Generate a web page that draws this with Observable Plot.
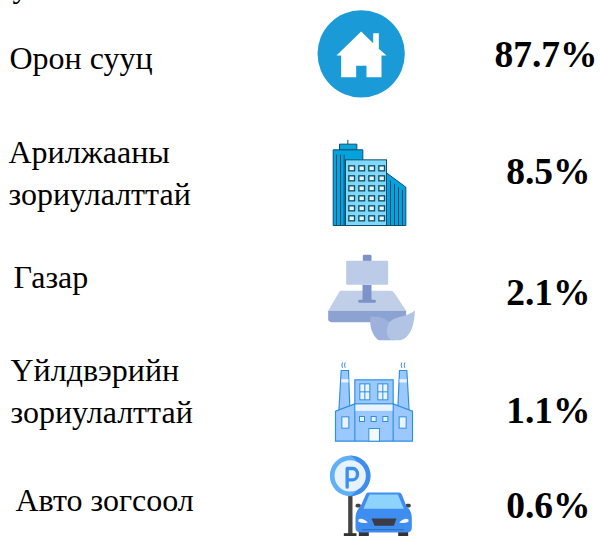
<!DOCTYPE html>
<html><head><meta charset="utf-8">
<script src="https://cdn.jsdelivr.net/npm/d3@7"></script>
<script src="https://cdn.jsdelivr.net/npm/@observablehq/plot@0.6"></script>
<style>html,body{margin:0;padding:0;background:#fff}svg{display:block}</style>
</head><body><div id="chart"></div>
<script>
const categories = ["Орон сууц", "Арилжааны\nзориулалттай", "Газар", "Үйлдвэрийн\nзориулалттай", "Авто зогсоол"];
const shares = [87.7, 8.5, 2.1, 1.1, 0.6];
const clippedText = ["у"];
const labelX = [9, 8, 13, 10, 15];
const labelY = [55, 170, 274, 388, 497];
const valueX = [597, 590, 590, 590, 590];
const valueY = [54, 171, 292, 410, 505];

const win = (x,y,w,h,stroke,fill,sw=3)=>`<rect x='${x}' y='${y}' width='${w}' height='${h}' fill='${fill}' stroke='${stroke}' stroke-width='${sw}'/>`;
const wrap = (w,h,body)=>"data:image/svg+xml;utf8,"+encodeURIComponent(`<svg xmlns='http://www.w3.org/2000/svg' width='${w}' height='${h}' viewBox='0 0 ${w} ${h}'>${body}</svg>`);

const houseIcon = wrap(390,360,`<circle cx='182' cy='160' r='131' fill='#1a9ad6'/><path fill='#fff' d='M108 165L182 93L218 128V98H235V145L258 165H243V230H198V196H167V230H122V165Z'/>`);

const towerRows = d3.range(6).flatMap(r=>d3.range(4).map(c=>win(115+c*30,106+r*30,17,15,"#0b4f6c","#eaf7fd",4))).join("");
const buildingIcon = wrap(360,300,`
<path d='M87 58V41H139V58Z' fill='#07a6dc' stroke='#0b4f70' stroke-width='3'/>
<path d='M112 28V41' stroke='#0b4f70' stroke-width='3'/>
<path d='M68 285V58H157V285Z' fill='#05a3de' stroke='#0b4f70' stroke-width='3'/>
<path d='M78 72V285M90 72V285M101 72V285' stroke='#0b4f70' stroke-width='3'/>
<path d='M228 127L286 170V285H228Z' fill='#05a3de' stroke='#0b4f70' stroke-width='3'/>
<path d='M240 150V285M252 160V285M264 170V285M276 178V285' stroke='#0b4f70' stroke-width='3'/>
<rect x='105' y='88' width='123' height='197' fill='#7fd8f8' stroke='#0b4f70' stroke-width='3'/>
${towerRows}`);

const landIcon = wrap(360,270,`
<path d='M92 121H240Q247 121 252 128L287 181H53L84 128Q87 121 92 121Z' fill='#c0cee8'/>
<path d='M53 181H287V205Q287 215 277 215H63Q53 215 53 205Z' fill='#8ca3d2'/>
<rect x='157' y='13' width='26' height='20' rx='4' fill='#7b93c9'/>
<rect x='156' y='103' width='27' height='50' fill='#7b93c9'/>
<rect x='143' y='148' width='53' height='9' rx='4' fill='#7b93c9'/>
<rect x='107' y='31' width='126' height='72' rx='4' fill='#bccbe7'/>
<path d='M180 198C215 196 240 210 250 235V270H205C184 255 176 225 180 198Z' fill='#9db1dc'/>
<path d='M313 180C312 220 302 262 268 270H245C226 262 224 228 240 212C256 198 293 198 313 180Z' fill='#b2c4e4'/>`);

const sq = (x,y)=>win(x,y,15,15,"#2f8fe0","#eaf4ff",3);
const factoryIcon = wrap(360,280,`
<g fill='none' stroke='#3f8be0' stroke-width='3'><path d='M96 36Q92 44 96 52M104 36Q100 44 104 52M274 36Q270 44 274 52M283 36Q279 44 283 52'/></g>
<g fill='#9bc8ff' stroke='#2f8fe0' stroke-width='3.5'>
<path d='M92 60H114L118 172L85 182Z'/><path d='M267 60H289L296 182L262 172Z'/>
<path d='M75 272V182L133 160H248L306 182V272Z'/>
<rect x='133' y='88' width='115' height='72'/>
<path d='M133 160V272M248 160V272' fill='none'/>
</g>
<rect x='92' y='86' width='22' height='10' fill='#eaf4ff'/><rect x='267' y='86' width='22' height='10' fill='#eaf4ff'/>
<rect x='135' y='162' width='111' height='19' fill='#eaf4ff'/>
<g fill='#eaf4ff' stroke='#2f8fe0' stroke-width='3'>
<rect x='148' y='100' width='30' height='48'/><rect x='202' y='100' width='30' height='48'/>
<path d='M163 100V148M148 124H178M217 100V148M202 124H232' fill='none'/>
<rect x='94' y='199' width='21' height='34'/><rect x='266' y='199' width='21' height='34'/>
</g>
${sq(147,198)}${sq(182,198)}${sq(217,198)}
<rect x='175' y='234' width='32' height='38' fill='#f3f8ff' stroke='#2f8fe0' stroke-width='3'/>`);

const parkingIcon = wrap(360,248,`
<rect x='113' y='125' width='13' height='115' fill='#444'/>
<rect x='100' y='238' width='38' height='10' fill='#333'/>
<circle cx='119' cy='66' r='61' fill='#5fb0f8'/>
<path d='M119 5A61 61 0 0 1 119 127A70 70 0 0 0 119 5Z' fill='#3f8cf0'/>
<circle cx='119' cy='66' r='47' fill='#e6f2ff'/>
<path d='M110 100V44H126C146 44 146 78 126 78H110' fill='none' stroke='#3d8fef' stroke-width='10' stroke-linecap='round' stroke-linejoin='round'/>
<rect x='135' y='150' width='16' height='11' rx='5' fill='#444'/><rect x='285' y='150' width='16' height='11' rx='5' fill='#444'/>
<rect x='145' y='230' width='30' height='18' fill='#333'/><rect x='263' y='230' width='30' height='18' fill='#333'/>
<path d='M172 116H266Q272 116 275 124L288 158Q304 170 304 195V222Q304 236 288 236H152Q135 236 135 222V195Q135 170 150 158L165 124Q167 116 172 116Z' fill='#3f8df0'/>
<path d='M177 122H262L280 165H159Z' fill='#8ed3fb'/>
<path d='M144 197Q155 190 172 206Q158 210 144 204ZM294 197Q283 190 266 206Q280 210 294 204Z' fill='#f2f8ff'/>
<path d='M183 194H258L250 216H192Z' fill='#3c3c46'/>
<rect x='155' y='226' width='125' height='3' fill='#2a6cb5'/>`);

const rows = categories.map((c,i)=>({category:c, share:shares[i], lx:labelX[i], ly:labelY[i], vx:valueX[i], vy:valueY[i]}));
const icons = [
  {src:houseIcon, cx:365, cy:60, w:130, h:120},
  {src:buildingIcon, cx:370, cy:180, w:120, h:100},
  {src:landIcon, cx:370, cy:295, w:120, h:90},
  {src:factoryIcon, cx:370, cy:396.67, w:120, h:93.33},
  {src:parkingIcon, cx:370, cy:494.67, w:120, h:82.67}
];
const font = "'Liberation Serif','Times New Roman',serif";

const chart = Plot.plot({
  width:600, height:536, margin:0,
  x:{domain:[0,600], range:[0,600], axis:null},
  y:{domain:[0,536], range:[0,536], axis:null},
  style:{background:"#fff"},
  marks:[
    Plot.image(icons,{x:"cx",y:"cy",width:"w",height:"h",src:"src"}),
    Plot.text(clippedText,{x:()=>12,y:()=>-14,text:d=>d,textAnchor:"start",lineAnchor:"middle",fontFamily:font,fontSize:32,fill:"#000"}),
    Plot.text(rows,{x:"lx",y:"ly",text:"category",textAnchor:"start",lineAnchor:"middle",lineHeight:1.31,fontFamily:font,fontSize:32,fill:"#000"}),
    Plot.text(rows,{x:"vx",y:"vy",text:d=>d.share.toFixed(1)+"%",textAnchor:"end",lineAnchor:"middle",fontFamily:font,fontSize:37.5,fontWeight:"bold",fill:"#000"})
  ]
});
document.getElementById("chart").append(chart);
</script></body></html>
